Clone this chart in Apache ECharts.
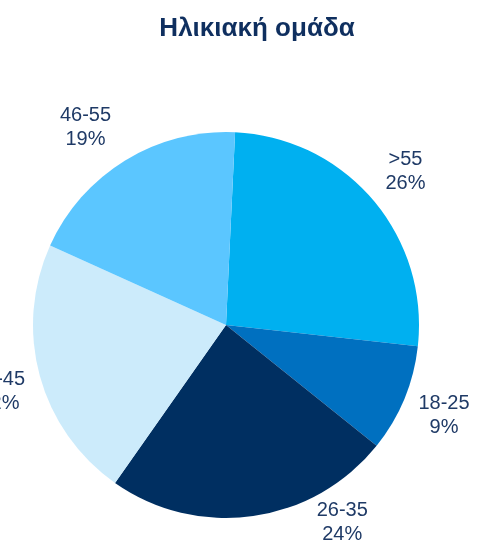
<!DOCTYPE html>
<html><head><meta charset="utf-8">
<script src="https://cdn.jsdelivr.net/npm/echarts@6/dist/echarts.min.js"></script>
<style>html,body{margin:0;padding:0;background:#fff;overflow:hidden}#c{width:478px;height:551px}</style>
</head><body><div id="c"></div>
<script>
const chartTitle = 'Ηλικιακή ομάδα';
const categories = ['>55', '18-25', '26-35', '36-45', '46-55'];
const values = [26, 9, 24, 22, 19];
const colors = ['#00B0F0', '#0070C0', '#002F61', '#CCEBFB', '#5BC6FF'];

// styling / layout constants
const CX = 226, CY = 325, R = 193, START = 87.3;
const LABEL_GAP = 43;
const labelAngleShift = { '26-35': -22.4, '46-55': -4, '36-45': -1 };
const labelGapShift = { '26-35': -7, '46-55': 6 };

const total = values.reduce((a, b) => a + b, 0);
const midAngles = [];
let acc = 90 - START; // degrees clockwise from top
values.forEach(v => { const span = v / total * 360; midAngles.push(acc + span / 2); acc += span; });

const chart = echarts.init(document.getElementById('c'), null, { renderer: 'canvas' });
chart.setOption({
  animation: false,
  title: {
    text: chartTitle, left: 252, top: 11, textAlign: 'center',
    textStyle: { fontFamily: 'Liberation Sans, Arial, sans-serif', fontSize: 26, fontWeight: 'bold', color: '#0F2F5F' }
  },
  series: [{
    type: 'pie',
    center: [CX, CY],
    radius: R,
    startAngle: START,
    clockwise: true,
    silent: true,
    avoidLabelOverlap: false,
    minShowLabelAngle: 0,
    data: categories.map((c, i) => ({ name: c, value: values[i], itemStyle: { color: colors[i] } })),
    label: {
      show: true, position: 'outside',
      formatter: '{b}\n{d}%',
      fontFamily: 'Liberation Sans, Arial, sans-serif',
      fontSize: 20, lineHeight: 24, color: '#1F3A66', align: 'center',
      overflow: 'none', width: 120
    },
    labelLine: { show: false },
    labelLayout: function (p) {
      const name = categories[p.dataIndex];
      const a = (midAngles[p.dataIndex] + (labelAngleShift[name] || 0)) * Math.PI / 180;
      const d = R + LABEL_GAP + (labelGapShift[name] || 0);
      return { x: CX + d * Math.sin(a), y: CY - d * Math.cos(a), align: 'center', verticalAlign: 'middle', hideOverlap: false, moveOverlap: null };
    }
  }]
});
</script></body></html>
